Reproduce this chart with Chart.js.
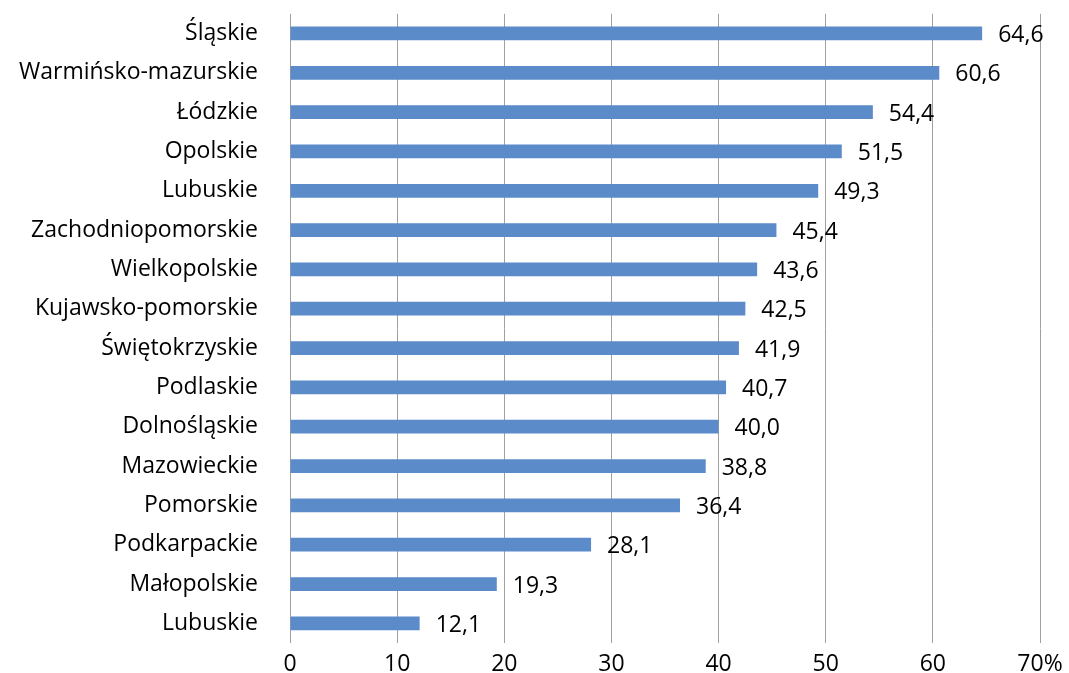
<!DOCTYPE html>
<html>
<head>
<meta charset="utf-8">
<script src="https://cdn.jsdelivr.net/npm/chart.js@4"></script>
<style>
  html, body { margin: 0; padding: 0; background: #fff; }
  #wrap { width: 1069px; height: 673px; }
</style>
</head>
<body>
<div id="wrap"><canvas id="chart" width="1069" height="673"></canvas></div>
<script>
// regions, sorted as in the picture (top to bottom)
const regions = ["Śląskie","Warmińsko-mazurskie","Łódzkie","Opolskie","Lubuskie","Zachodniopomorskie",
  "Wielkopolskie","Kujawsko-pomorskie","Świętokrzyskie","Podlaskie","Dolnośląskie","Mazowieckie",
  "Pomorskie","Podkarpackie","Małopolskie","Lubuskie"];
const values = [64.6,60.6,54.4,51.5,49.3,45.4,43.6,42.5,41.9,40.7,40.0,38.8,36.4,28.1,19.3,12.1];
const xTicks = [0,10,20,30,40,50,60,70];

const FONT = '"Open Sans", Lato, sans-serif';

// value labels to the right of each bar
const valueLabels = {
  id: 'valueLabels',
  afterDatasetsDraw(chart){
    const ctx = chart.ctx;
    const meta = chart.getDatasetMeta(0);
    ctx.save();
    ctx.font = '23px ' + FONT;
    ctx.fillStyle = '#000';
    ctx.textAlign = 'left';
    ctx.textBaseline = 'middle';
    meta.data.forEach((bar, i) => {
      ctx.fillText(values[i].toFixed(1).replace('.', ','), bar.x + 16, bar.y + 2);
    });
    ctx.restore();
  }
};

new Chart(document.getElementById('chart'), {
  type: 'bar',
  data: {
    labels: regions,
    datasets: [{ data: values, backgroundColor: '#5B8BC9', borderWidth: 0,
      barPercentage: 0.35, categoryPercentage: 1 }]
  },
  options: {
    indexAxis: 'y',
    responsive: false,
    animation: false,
    layout: { padding: { top: 13, right: 29, left: 0, bottom: 0 } },
    plugins: { legend: { display: false }, tooltip: { enabled: false } },
    scales: {
      x: {
        min: 0, max: 70,
        afterBuildTicks: s => { s.ticks = xTicks.map(v => ({ value: v })); },
        afterFit: s => { s.height = 30; s.paddingRight = 0; },
        grid: { color: '#A0A0A0', lineWidth: 1, drawTicks: false },
        border: { display: false },
        ticks: {
          padding: 8, color: '#000', font: { family: FONT, size: 23 },
          maxRotation: 0,
          callback: v => v === 70 ? '70%' : String(v)
        }
      },
      y: {
        afterFit: s => { s.width = 290; },
        // invisible tick marks give the gap between labels and the plot
        grid: { drawOnChartArea: false, drawTicks: true, tickLength: 32, tickColor: 'rgba(0,0,0,0)' },
        border: { display: false },
        ticks: { padding: 0, color: '#000', font: { family: FONT, size: 23 } }
      }
    }
  },
  plugins: [valueLabels]
});
</script>
</body>
</html>
